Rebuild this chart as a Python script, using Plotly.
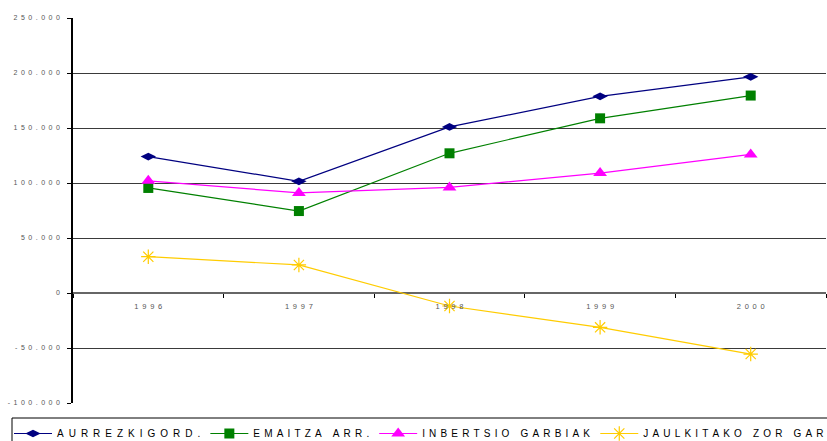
import plotly.graph_objects as go

# Series data (axis uses '.' as the thousands separator)
years = ["1996", "1997", "1998", "1999", "2000"]
aurrezki = [124000, 101500, 151000, 178800, 196500]
emaitza = [95500, 74500, 127000, 158800, 179500]
inbertsio = [102000, 91000, 96000, 109000, 126000]
jaulkitako = [33000, 25500, -11800, -31200, -55500]

series_names = ["AURREZKIGORD.", "EMAITZA ARR.", "INBERTSIO GARBIAK", "JAULKITAKO ZOR GAR"]
y_ticks = [-100000, -50000, 0, 50000, 100000, 150000, 200000, 250000]

WIDE_GAP = "\u2002"            # en space
NARROW_GAP = "\u2005\u2006"    # four-per-em + six-per-em space


def spaced(s, gap=WIDE_GAP):
    """Spread letters apart the way the chart typography does."""
    return gap.join("\u00a0" if ch == " " else ch for ch in s)


def fmt(v):
    s = f"{abs(v):,}".replace(",", ".")
    return ("-" if v < 0 else "") + s


font_family = "Liberation Sans, Arial, sans-serif"

# plot-area geometry (pixels)
W, H = 827, 441
ML, MR, MT, MB = 73, 1, 18, 38
PW, PH = W - ML - MR, H - MT - MB


def px_x(x):
    return (x - ML) / PW


def px_y(y):
    return (H - MB - y) / PH


fig = go.Figure()
styles = [
    (aurrezki, "#000080", "diamond-wide", 11, WIDE_GAP),
    (emaitza, "#008000", "square", 10, NARROW_GAP),
    (inbertsio, "#FF00FF", "triangle-up", 12, NARROW_GAP),
    (jaulkitako, "#FFCC00", "asterisk-open", 12, NARROW_GAP),
]
for name, (vals, color, sym, size, gap) in zip(series_names, styles):
    marker = dict(symbol=sym, size=size, color=color)
    if sym.endswith("open"):
        marker["line"] = dict(color=color, width=1.2)
    fig.add_trace(go.Scatter(
        x=years, y=vals, name=spaced(name, gap), mode="lines+markers",
        line=dict(color=color, width=1.2), marker=marker,
    ))

# legend frame
fig.add_shape(
    type="rect", xref="paper", yref="paper",
    x0=px_x(12), x1=px_x(W + 20), y0=px_y(418), y1=px_y(H + 20),
    line=dict(color="#000000", width=1), fillcolor="rgba(0,0,0,0)", layer="above",
)

fig.update_layout(
    width=W, height=H,
    margin=dict(l=ML, r=MR, t=MT, b=MB, autoexpand=False),
    paper_bgcolor="white", plot_bgcolor="white",
    font=dict(family=font_family, color="#000000"),
    legend=dict(
        orientation="h",
        x=px_x(9), xanchor="left", y=px_y(419), yanchor="top",
        borderwidth=0, bgcolor="rgba(0,0,0,0)",
        font=dict(size=10, family=font_family, color="#000000"),
        itemwidth=38,
    ),
    showlegend=True,
)

fig.update_xaxes(
    type="category", range=[-0.5, 4.5],
    anchor="free", position=100000 / 350000,
    tickmode="array", tickvals=years, ticktext=[spaced(y) for y in years],
    tickson="boundaries", ticks="outside", ticklen=4, tickcolor="#000000",
    showline=False, showgrid=False, zeroline=False,
    tickfont=dict(size=7.5, color="#555555", family=font_family),
    ticklabelstandoff=7,
)

fig.update_yaxes(
    range=[-100000, 250000],
    tickmode="array", tickvals=y_ticks, ticktext=[spaced(fmt(v)) for v in y_ticks],
    ticks="outside", ticklen=4, tickcolor="#000000",
    showline=True, linecolor="#000000", linewidth=1.5,
    showgrid=True, gridcolor="#3a3a3a", gridwidth=1,
    zeroline=True, zerolinecolor="#666666", zerolinewidth=1.5,
    tickfont=dict(size=7, color="#555555", family=font_family),
    ticklabelstandoff=6,
)

fig.write_html("out.html")
